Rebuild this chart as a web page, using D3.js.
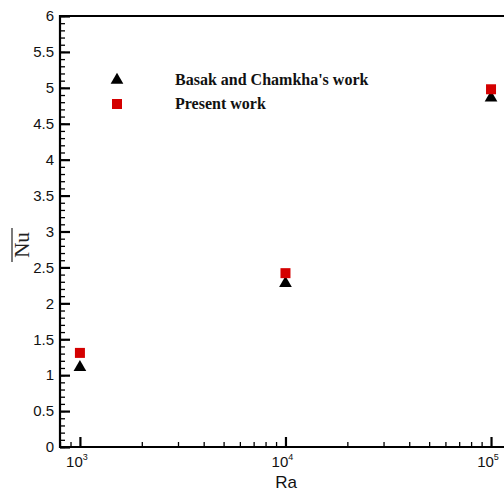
<!DOCTYPE html>
<html>
<head>
<meta charset="utf-8">
<script src="https://cdn.jsdelivr.net/npm/d3@7"></script>
<style>
  body { margin: 0; background: #fff; }
  svg { display: block; }
</style>
</head>
<body>
<div id="chart"></div>
<script>
// Data
const raValues = [1e3, 1e4, 1e5];
const basakNu = [1.11, 2.28, 4.86];
const presentNu = [1.31, 2.42, 4.98];
const seriesNames = ["Basak and Chamkha's work", "Present work"];
const yTicks = [0, 0.5, 1, 1.5, 2, 2.5, 3, 3.5, 4, 4.5, 5, 5.5, 6];
const xExponents = [3, 4, 5];

const svgWidth = 504, svgHeight = 492;
const plotLeft = 60, plotTop = 16, plotBottom = 447, plotRight = 507.3;

const svg = d3.select('#chart').append('svg')
  .attr('width', svgWidth)
  .attr('height', svgHeight);

// Scales
const xScale = d3.scaleLog().domain([800, 120000]).range([plotLeft, plotRight]);
const yScale = d3.scaleLinear().domain([0, 6]).range([plotBottom, plotTop]);

// Minor y ticks (every 0.1)
const yMinor = d3.range(0, 61).map(i => i / 10);
svg.append('g')
  .attr('transform', 'translate(' + plotLeft + ',0)')
  .call(d3.axisLeft(yScale).tickValues(yMinor).tickSize(-5).tickFormat(''))
  .call(g => g.select('.domain').remove())
  .call(g => g.selectAll('line').attr('stroke-width', 1.3));

// Major y ticks
const yAxis = svg.append('g')
  .attr('transform', 'translate(' + plotLeft + ',0)')
  .call(d3.axisLeft(yScale).tickValues(yTicks).tickSizeInner(-10).tickSizeOuter(0).tickPadding(6).tickFormat(d3.format('')))
  .call(g => g.select('.domain').remove());
yAxis.selectAll('line').attr('stroke-width', 2.2);
yAxis.selectAll('text')
  .style('font', '15px Arial, "Liberation Sans", sans-serif')
  .attr('fill', '#111');

// Minor x ticks (2..9 of each decade)
const xMinor = [];
[2, 3, 4].forEach(e => {
  for (let m = 2; m <= 9; m++) {
    const v = m * Math.pow(10, e);
    if (v >= 800 && v <= 120000) xMinor.push(v);
  }
});
svg.append('g')
  .attr('transform', 'translate(0,' + plotBottom + ')')
  .call(d3.axisBottom(xScale).tickValues(xMinor).tickSize(-5).tickFormat(''))
  .call(g => g.select('.domain').remove())
  .call(g => g.selectAll('line').attr('stroke-width', 1.3));

// Major x ticks
const xAxis = svg.append('g')
  .attr('transform', 'translate(0,' + plotBottom + ')')
  .call(d3.axisBottom(xScale).tickValues(raValues).tickSizeInner(-10).tickSizeOuter(0).tickFormat(''))
  .call(g => g.select('.domain').remove());
xAxis.selectAll('line').attr('stroke-width', 2.2);

// x tick labels with superscripts
const xl = svg.append('g').selectAll('text')
  .data(xExponents)
  .enter().append('text')
    .attr('x', d => xScale(Math.pow(10, d)) - 3)
    .attr('y', 467)
    .attr('text-anchor', 'middle')
    .style('font', '15px Arial, "Liberation Sans", sans-serif')
    .attr('fill', '#111');
xl.append('tspan').text('10');
xl.append('tspan').attr('dy', -7).style('font-size', '9px').text(d => d);

// Frame
svg.append('path')
  .attr('d', 'M' + (plotRight + 5) + ',' + plotTop + 'H' + plotLeft + 'V' + plotBottom + 'H' + (plotRight + 5))
  .attr('fill', 'none')
  .attr('stroke', '#000')
  .attr('stroke-width', 2.2);

// Axis titles
svg.append('text')
  .attr('x', 286)
  .attr('y', 488)
  .attr('text-anchor', 'middle')
  .style('font', '17px Arial, "Liberation Sans", sans-serif')
  .attr('fill', '#111')
  .text('Ra');

const nu = svg.append('g').attr('transform', 'translate(29,245) rotate(-90)');
nu.append('text')
  .attr('text-anchor', 'middle')
  .style('font', '21px "Times New Roman", "Liberation Serif", serif')
  .attr('fill', '#222')
  .text('Nu');
nu.append('line')
  .attr('x1', -17).attr('x2', 17)
  .attr('y1', -17).attr('y2', -17)
  .attr('stroke', '#222')
  .attr('stroke-width', 1.2);

// Markers
const triangle = d3.symbol().type(d3.symbolTriangle).size(70);

svg.append('g').selectAll('path')
  .data(raValues.map((r, i) => ({ra: r, nu: basakNu[i]})))
  .enter().append('path')
    .attr('d', triangle)
    .attr('transform', d => 'translate(' + xScale(d.ra) + ',' + yScale(d.nu) + ')')
    .attr('fill', '#000');

svg.append('g').selectAll('rect')
  .data(raValues.map((r, i) => ({ra: r, nu: presentNu[i]})))
  .enter().append('rect')
    .attr('x', d => xScale(d.ra) - 5)
    .attr('y', d => yScale(d.nu) - 5)
    .attr('width', 10)
    .attr('height', 10)
    .attr('fill', '#d40000');

// Legend
svg.append('path')
  .attr('d', triangle)
  .attr('transform', 'translate(117,80)')
  .attr('fill', '#000');
svg.append('rect')
  .attr('x', 112).attr('y', 99)
  .attr('width', 10).attr('height', 10)
  .attr('fill', '#d40000');

svg.selectAll('.legend')
  .data(seriesNames)
  .enter().append('text')
    .attr('class', 'legend')
    .attr('x', 175)
    .attr('y', (d, i) => 85 + i * 24)
    .style('font', 'bold 16px "Times New Roman", "Liberation Serif", serif')
    .attr('fill', '#111')
    .text(d => d);
</script>
</body>
</html>
